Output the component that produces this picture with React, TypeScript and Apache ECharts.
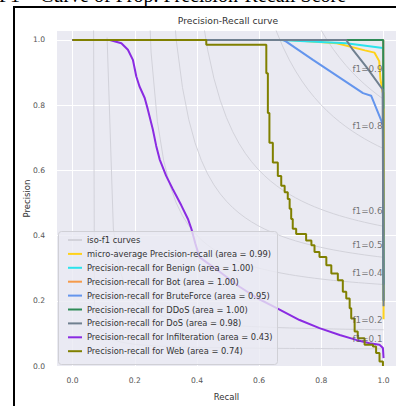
import React, { useEffect, useRef } from "react";
import * as echarts from "echarts";

const xTicks = [0, 0.2, 0.4, 0.6, 0.8, 1.0];
const yTicks = [0, 0.2, 0.4, 0.6, 0.8, 1.0];
const isoScores = [0.1, 0.2, 0.4, 0.5, 0.6, 0.8, 0.9];

const seriesNames = [
  "micro-average Precision-recall (area = 0.99)",
  "Precision-recall for Benign (area = 1.00)",
  "Precision-recall for Bot (area = 1.00)",
  "Precision-recall for BruteForce (area = 0.95)",
  "Precision-recall for DDoS (area = 1.00)",
  "Precision-recall for DoS (area = 0.98)",
  "Precision-recall for Infilteration (area = 0.43)",
  "Precision-recall for Web (area = 0.74)",
];
const seriesColors = ["#FFD21A", "#2BE3EC", "#F59A4A", "#6495ED", "#2E8B57", "#708090", "#8A2BE2", "#808000"];

// [recall, precision]
const microPR = [[0, 1], [0.7, 1.0], [0.85, 0.99], [0.94, 0.968], [0.971, 0.961], [0.986, 0.935], [0.99, 0.88], [0.997, 0.84], [1.0, 0.838], [1.0, 0.143]];
const benignPR = [[0, 1], [0.666, 1.0], [0.88, 0.99], [0.998, 0.975], [1.0, 0.79]];
const botPR = [[0, 1], [0.999, 1.0], [1.0, 0.4]];
const bruteForcePR = [[0, 1], [0.676, 1.0], [0.687, 0.995], [0.773, 0.939], [0.934, 0.837], [0.96, 0.829], [0.998, 0.74], [1.0, 0.25]];
const ddosPR = [[0, 1], [0.999, 1.0], [1.0, 0.2]];
const dosPR = [[0, 1], [0.88, 1.0], [0.901, 0.97], [0.944, 0.918], [0.997, 0.848], [1.0, 0.183]];
const infilPR = [
  [0, 1], [0.12, 1.0], [0.157, 0.99], [0.178, 0.97], [0.194, 0.939], [0.205, 0.888], [0.215, 0.858],
  [0.232, 0.822], [0.242, 0.787], [0.258, 0.726], [0.269, 0.675], [0.28, 0.634], [0.301, 0.583],
  [0.322, 0.543], [0.35, 0.492], [0.371, 0.451], [0.382, 0.421], [0.395, 0.375], [0.408, 0.334],
  [0.473, 0.289], [0.537, 0.243], [0.596, 0.207], [0.655, 0.178], [0.73, 0.141], [0.794, 0.116],
  [0.859, 0.095], [0.912, 0.08], [0.955, 0.07], [0.987, 0.065], [0.998, 0.055], [1.0, 0.024],
];
const webPR = [
  [0, 1], [0.43, 1.0], [0.43, 0.985], [0.607, 0.985], [0.623, 0.898], [0.628, 0.776], [0.633, 0.685],
  [0.644, 0.624], [0.66, 0.583], [0.671, 0.553], [0.682, 0.533], [0.692, 0.512], [0.698, 0.482],
  [0.703, 0.451], [0.708, 0.421], [0.719, 0.405], [0.751, 0.385], [0.768, 0.37], [0.778, 0.35],
  [0.794, 0.334], [0.816, 0.309], [0.832, 0.284], [0.853, 0.263], [0.869, 0.228], [0.88, 0.207],
  [0.891, 0.177], [0.896, 0.146], [0.907, 0.106], [0.917, 0.085], [0.939, 0.065], [0.966, 0.06],
  [0.976, 0.04], [0.987, 0.014], [0.998, 0.0],
];
const allPR = [microPR, benignPR, botPR, bruteForcePR, ddosPR, dosPR, infilPR, webPR];
const stepped = [false, false, false, false, false, false, false, true];

const FONT = "DejaVu Sans";

export default function App() {
  const ref = useRef<HTMLDivElement>(null);
  useEffect(() => {
    if (!ref.current) return;
    const chart = echarts.init(ref.current, undefined, { renderer: "svg" });

    // iso-f1 reference curves: x = linspace(0.01, 1, 50), y = f*x/(2x-f)
    const xs: number[] = [];
    for (let i = 0; i < 50; i++) xs.push(0.01 + (i * 0.99) / 49);
    const isoSeries: any[] = isoScores.map((f) => ({
      name: "iso-f1 curves",
      type: "line",
      showSymbol: false,
      silent: true,
      z: 1,
      itemStyle: { color: "#D2D2DA" },
      lineStyle: { color: "#D2D2DA", width: 1 },
      data: xs.map((x) => [x, (f * x) / (2 * x - f)]).filter((d) => d[1] >= 0),
    }));
    const isoLabels = isoScores.map((f) => {
      const x45 = xs[45];
      return [0.9, (f * x45) / (2 * x45 - f) + 0.02, "f1=" + f.toFixed(1)];
    });

    const prSeries: any[] = allPR.map((d, i) => ({
      name: seriesNames[i],
      type: "line",
      showSymbol: false,
      silent: true,
      z: 3,
      step: stepped[i] ? "end" : false,
      itemStyle: { color: seriesColors[i] },
      lineStyle: { color: seriesColors[i], width: 2 },
      data: d,
    }));

    chart.setOption({
      animation: false,
      backgroundColor: "#ffffff",
      grid: { left: 57, right: 0, top: 31, bottom: 38, backgroundColor: "#EAEAF2", show: true, borderWidth: 0 },
      xAxis: {
        type: "value",
        min: -0.05,
        max: 1.04,
        name: "Recall",
        nameLocation: "middle",
        nameGap: 26,
        nameMoveOverlap: false,
        nameTextStyle: { fontFamily: FONT, fontSize: 8.5, color: "#333" },
        axisLine: { show: false },
        axisTick: { show: false, customValues: xTicks },
        axisLabel: { customValues: xTicks, formatter: (v: number) => v.toFixed(1), fontFamily: FONT, fontSize: 7.6, color: "#555", margin: 10 },
        splitLine: { show: true, lineStyle: { color: "#FFFFFF", width: 1 } },
      },
      yAxis: {
        type: "value",
        min: 0,
        max: 1.0274,
        name: "Precision",
        nameLocation: "middle",
        nameGap: 26,
        nameRotate: 90,
        nameMoveOverlap: false,
        nameTextStyle: { fontFamily: FONT, fontSize: 8.5, color: "#333" },
        axisLine: { show: false },
        axisTick: { show: false, customValues: yTicks },
        axisLabel: { customValues: yTicks, formatter: (v: number) => v.toFixed(1), fontFamily: FONT, fontSize: 7.6, color: "#555", margin: 12 },
        splitLine: { show: true, lineStyle: { color: "#FFFFFF", width: 1 } },
      },
      legend: {
        data: ["iso-f1 curves", ...seriesNames],
        orient: "vertical",
        left: 58,
        top: 231,
        z: 60,
        icon: "rect",
        itemWidth: 14,
        itemHeight: 2,
        itemGap: 1.9,
        padding: [3, 8, 3, 10],
        selectedMode: false,
        textStyle: { fontFamily: FONT, fontSize: 8.3, color: "#333", lineHeight: 12 },
      },
      graphic: [
        {
          type: "rect",
          z: 50,
          silent: true,
          shape: { x: 58.5, y: 231.5, width: 219, height: 133, r: 3 },
          style: { fill: "rgba(234,234,242,0.8)", stroke: "#D0D0D6", lineWidth: 1 },
        },
        {
          type: "text",
          x: 228,
          y: 20,
          style: { text: "Precision-Recall curve", fontFamily: FONT, fontSize: 9.2, fill: "#333", align: "center", verticalAlign: "middle" },
        },
        {
          type: "text",
          x: -1,
          y: 5,
          style: { text: "F1 – Curve of Prop. Precision-Recall Score", fontFamily: "Liberation Serif", fontSize: 20, fill: "#000", align: "left", verticalAlign: "bottom" },
        },
        {
          type: "rect",
          shape: { x: 14, y: 7, width: 420, height: 420 },
          style: { fill: "none", stroke: "#000", lineWidth: 2 },
        },
      ],
      series: [
        ...isoSeries,
        ...prSeries,
        {
          name: "iso labels",
          type: "scatter",
          symbolSize: 0,
          silent: true,
          z: 10,
          data: isoLabels,
          label: {
            show: true,
            formatter: (p: any) => p.data[2],
            position: [0, -3],
            align: "left",
            verticalAlign: "middle",
            fontFamily: FONT,
            fontSize: 8.8,
            color: "#555",
          },
        },
      ],
    });
    return () => chart.dispose();
  }, []);
  return <div ref={ref} style={{ position: "fixed", left: 0, top: 0, width: 396, height: 406 }} />;
}
